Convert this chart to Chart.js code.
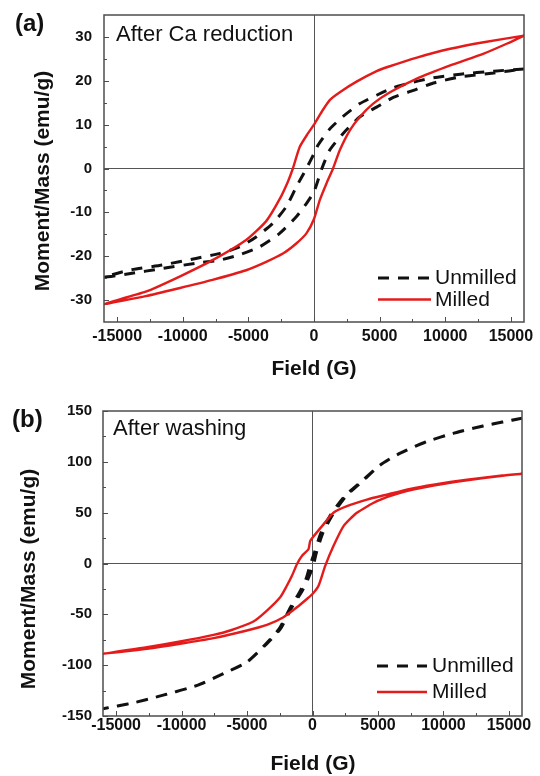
<!DOCTYPE html>
<html>
<head>
<meta charset="utf-8">
<script src="https://cdn.jsdelivr.net/npm/chart.js@4.4.1/dist/chart.umd.min.js"></script>
<style>
  html, body { margin: 0; padding: 0; background: #fff; }
  #wrap { position: relative; width: 540px; height: 776px; overflow: hidden; }
  canvas { position: absolute; left: 0; }
  #chartA { top: 0; }
  #chartB { top: 390px; }
</style>
</head>
<body>
<div id="wrap">
  <canvas id="chartA" width="540" height="395"></canvas>
  <canvas id="chartB" width="540" height="386"></canvas>
</div>
<script>
// (a) after Ca reduction -- each loop goes +16000 -> -16000 -> +16000
const unmilledA_field = [16000, 13700, 11150, 9100, 7580, 6040, 4770, 3500, 2220, 1200, 300, 0, -580, -1350, -2110, -3140, -4410, -5690, -7220, -9000, -11550, -14100, -16000,
  -14100, -11550, -9000, -7220, -5690, -4160, -2620, -1350, -580, 0, 600, 1200, 2220, 3500, 4770, 6040, 7580, 9100, 11150, 13700, 16000];
const unmilledA_moment = [22.7, 22.2, 21.5, 20.7, 19.7, 18.4, 16.7, 14.8, 11.9, 9.0, 5.3, 3.4, 0, -4.2, -8.7, -12.5, -15.6, -17.9, -19.4, -20.5, -22.0, -23.2, -24.8,
  -24.0, -22.8, -21.6, -20.9, -19.7, -17.9, -14.8, -11.0, -8.0, -5.3, 0, 4.2, 8.0, 11.8, 14.0, 16.2, 17.8, 19.5, 20.9, 21.8, 22.7];
const milledA_field = [16000, 12930, 10380, 7840, 5660, 4770, 3240, 1970, 1200, 600, 0, -460, -1090, -1610, -1990, -2620, -3640, -5170, -7730, -10280, -12820, -16000,
  -12820, -10280, -7730, -5170, -3640, -2370, -1350, -580, 0, 440, 950, 1450, 1970, 2730, 3500, 4510, 5790, 7840, 10380, 12930, 14720, 16000];
const milledA_moment = [30.3, 28.8, 27.3, 25.3, 23.2, 22.2, 19.8, 17.4, 15.6, 13.0, 10.0, 8.0, 4.9, 0, -3.0, -7.0, -12.0, -16.3, -20.9, -24.7, -28.1, -30.9,
  -29.1, -27.3, -25.4, -23.2, -21.3, -19.4, -17.1, -14.8, -11.5, -7.2, -3.4, 0, 4.2, 8.7, 11.8, 14.8, 17.4, 20.5, 23.5, 26.2, 28.5, 30.3];

// (b) after washing
const unmilledB_field = [16000, 13050, 10800, 8750, 6700, 5200, 3750, 2450, 1400, 650, 150, -200, -500, -1000, -1750, -2550, -3550, -5000, -6800, -8800, -11400, -13900, -16000,
  -13900, -11400, -8800, -6800, -5000, -3500, -2450, -1650, -850, -350, 50, 300, 800, 1550, 2550, 3800, 5200, 6700, 8750, 10800, 13050, 16000];
const unmilledB_moment = [142.9, 135.3, 128.2, 120, 108.6, 97.2, 80.8, 66.1, 48.2, 30.3, 10.8, -2.3, -15.4, -28.4, -44.7, -64.3, -79, -96.9, -108.3, -119.8, -129.5, -137.7, -142.8,
  -137.7, -129.5, -119.8, -108.3, -96.9, -79, -64.3, -44.7, -28.4, -15.4, -2.3, 10.8, 30.3, 48.2, 66.1, 80.8, 97.2, 108.6, 120, 128.2, 135.3, 142.9];
const milledB_field = [16000, 14340, 11800, 9240, 7460, 5680, 4160, 2630, 1600, 840, 0, -180, -310, -810, -1190, -1570, -1960, -2470, -3480, -4510, -6290, -7560, -10110, -12650, -16000,
  -12650, -10110, -7560, -5010, -3480, -2220, -1190, -430, 0, 460, 970, 1600, 2370, 3390, 4920, 6700, 9240, 11800, 14340, 16000];
const milledB_moment = [88.3, 86.4, 82.5, 77.6, 73.4, 67.8, 62.9, 56.4, 49.9, 38.5, 25.4, 22.1, 14.0, 7.4, -0.7, -12.1, -21.9, -33.3, -46.4, -57.1, -65.9, -70.2, -76.7, -82.2, -88.7,
  -83.9, -79.0, -73.4, -65.9, -60.4, -52.8, -43.1, -34.9, -30.0, -21.9, -2.3, 17.2, 36.8, 49.9, 61.3, 69.5, 76.6, 81.8, 86.1, 88.3];

const seriesNames = ['Unmilled', 'Milled'];

// tick positions (minor ticks between the labelled ones)
const fieldTicks = [-15000, -12500, -10000, -7500, -5000, -2500, 0, 2500, 5000, 7500, 10000, 12500, 15000];
const fieldLabels = [-15000, -10000, -5000, 0, 5000, 10000, 15000];
const momentTicksA = [-30, -25, -20, -15, -10, -5, 0, 5, 10, 15, 20, 25, 30];
const momentLabelsA = [-30, -20, -10, 0, 10, 20, 30];
const momentTicksB = [-150, -125, -100, -75, -50, -25, 0, 25, 50, 75, 100, 125, 150];
const momentLabelsB = [-150, -100, -50, 0, 50, 100, 150];

const FONT = '"Liberation Sans", Arial, sans-serif';
const RED = '#e31b1b';
const INK = '#111111';

function toPoints(xs, ys) {
  return xs.map(function(x, i) { return { x: x, y: ys[i] }; });
}

// frame, inward ticks, annotation, legend and axis titles
const panelDecor = {
  id: 'panelDecor',
  afterDraw: function(chart, args, o) {
    const ctx = chart.ctx;
    const a = chart.chartArea;
    const sx = chart.scales.x, sy = chart.scales.y;
    ctx.save();

    ctx.strokeStyle = '#4d4d4d';
    ctx.lineWidth = 1;
    ctx.beginPath();
    sx.ticks.forEach(function(t) {
      const p = Math.round(sx.getPixelForValue(t.value)) + 0.5;
      const len = t.label !== '' ? 5 : 3;
      ctx.moveTo(p, a.bottom);
      ctx.lineTo(p, a.bottom - len);
    });
    sy.ticks.forEach(function(t) {
      const p = Math.round(sy.getPixelForValue(t.value)) + 0.5;
      const len = t.label !== '' ? 5 : 3;
      ctx.moveTo(a.left, p);
      ctx.lineTo(a.left + len, p);
    });
    ctx.stroke();
    ctx.lineWidth = 1.5;
    ctx.strokeRect(a.left, a.top, a.right - a.left, a.bottom - a.top);

    ctx.fillStyle = INK;
    ctx.textBaseline = 'alphabetic';
    ctx.textAlign = 'left';
    ctx.font = 'bold 24px ' + FONT;
    ctx.fillText(o.letter, o.letterX, o.letterY);
    ctx.font = '22px ' + FONT;
    ctx.fillText(o.note, o.noteX, o.noteY);

    // legend, styled from the datasets themselves
    chart.data.datasets.forEach(function(ds, i) {
      const ly = o.legendY + i * o.legendGap;
      ctx.strokeStyle = ds.borderColor;
      ctx.lineWidth = ds.borderWidth;
      ctx.setLineDash(ds.borderDash || []);
      ctx.beginPath();
      ctx.moveTo(o.legendX, ly);
      ctx.lineTo(o.legendX + o.legendLen, ly);
      ctx.stroke();
      ctx.setLineDash([]);
      ctx.font = '21px ' + FONT;
      ctx.fillText(ds.label, o.legendTextX, ly + 6);
    });

    ctx.font = 'bold 21px ' + FONT;
    ctx.textAlign = 'center';
    ctx.fillText(o.xTitle, o.xTitleX, o.xTitleY);
    ctx.translate(o.yTitleX, o.yTitleY);
    ctx.rotate(-Math.PI / 2);
    ctx.textBaseline = 'middle';
    ctx.fillText(o.yTitle, 0, 0);
    ctx.restore();
  }
};

function zeroLine(c) {
  return c.tick && c.tick.value === 0 ? '#555555' : 'rgba(0,0,0,0)';
}

function makePanel(canvasId, p) {
  const canvas = document.getElementById(canvasId);
  return new Chart(canvas.getContext('2d'), {
    type: 'scatter',
    data: {
      datasets: [
        {
          label: seriesNames[0],
          data: toPoints(p.unmilledField, p.unmilledMoment),
          showLine: true,
          borderColor: INK,
          borderWidth: 3,
          borderDash: [11, 9],
          pointRadius: 0,
          tension: 0.2,
          order: 1
        },
        {
          label: seriesNames[1],
          data: toPoints(p.milledField, p.milledMoment),
          showLine: true,
          borderColor: RED,
          borderWidth: 2.4,
          pointRadius: 0,
          tension: 0.2,
          order: 0
        }
      ]
    },
    options: {
      responsive: false,
      animation: false,
      layout: { padding: { left: 0, top: p.top, right: 540 - p.right, bottom: 0 } },
      plugins: {
        legend: { display: false },
        tooltip: { enabled: false },
        panelDecor: p.decor
      },
      scales: {
        x: {
          type: 'linear',
          min: -16000,
          max: 16000,
          border: { display: false },
          grid: { drawTicks: false, lineWidth: 1, color: zeroLine },
          afterBuildTicks: function(s) {
            s.ticks = fieldTicks.map(function(v) { return { value: v }; });
          },
          ticks: {
            autoSkip: false,
            maxRotation: 0,
            padding: p.xPad,
            color: INK,
            font: { family: FONT, size: 16, weight: 'bold' },
            callback: function(v) { return fieldLabels.indexOf(v) >= 0 ? String(v) : ''; }
          },
          afterFit: function(s) {
            s.height = canvas.height - p.bottom;
            s.paddingLeft = 0;
            s.paddingRight = 0;
          }
        },
        y: {
          type: 'linear',
          min: -p.yMax,
          max: p.yMax,
          border: { display: false },
          grid: { drawTicks: false, lineWidth: 1, color: zeroLine },
          afterBuildTicks: function(s) {
            s.ticks = p.yTicks.map(function(v) { return { value: v }; });
          },
          ticks: {
            autoSkip: false,
            padding: p.yPad,
            color: INK,
            font: { family: FONT, size: 15, weight: 'bold' },
            callback: function(v) { return p.yLabels.indexOf(v) >= 0 ? String(v) : ''; }
          },
          afterFit: function(s) {
            s.width = p.left;
            s.paddingTop = 0;
            s.paddingBottom = 0;
          }
        }
      }
    },
    plugins: [panelDecor]
  });
}

makePanel('chartA', {
  unmilledField: unmilledA_field, unmilledMoment: unmilledA_moment,
  milledField: milledA_field, milledMoment: milledA_moment,
  left: 104, right: 524, top: 15, bottom: 322,
  yMax: 35, yTicks: momentTicksA, yLabels: momentLabelsA, xPad: 5, yPad: 12,
  decor: {
    letter: '(a)', letterX: 15, letterY: 31,
    note: 'After Ca reduction', noteX: 116, noteY: 41,
    legendX: 378, legendLen: 53, legendTextX: 435, legendY: 278, legendGap: 21.5,
    xTitle: 'Field (G)', xTitleX: 314, xTitleY: 375,
    yTitle: 'Moment/Mass (emu/g)', yTitleX: 43, yTitleY: 181
  }
});

makePanel('chartB', {
  unmilledField: unmilledB_field, unmilledMoment: unmilledB_moment,
  milledField: milledB_field, milledMoment: milledB_moment,
  left: 103, right: 522, top: 21, bottom: 326,
  yMax: 150, yTicks: momentTicksB, yLabels: momentLabelsB, xPad: 0, yPad: 11,
  decor: {
    letter: '(b)', letterX: 12, letterY: 37,
    note: 'After washing', noteX: 113, noteY: 45,
    legendX: 377, legendLen: 50, legendTextX: 432, legendY: 276, legendGap: 26,
    xTitle: 'Field (G)', xTitleX: 313, xTitleY: 380,
    yTitle: 'Moment/Mass (emu/g)', yTitleX: 29, yTitleY: 189
  }
});
</script>
</body>
</html>
